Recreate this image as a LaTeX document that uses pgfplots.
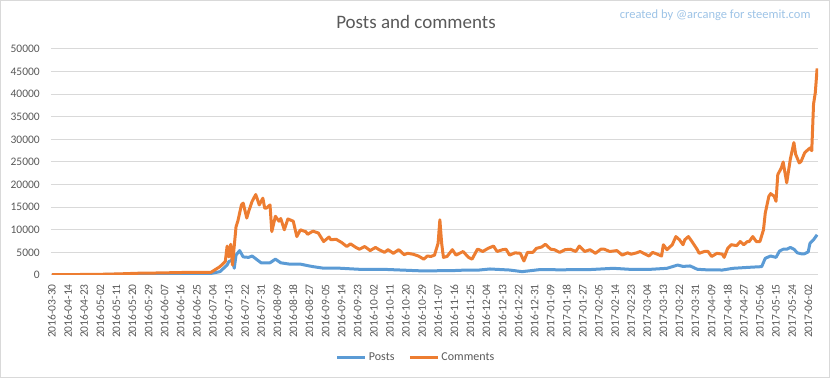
\documentclass[border=0pt]{standalone}
\usepackage{pgfplots}
\pgfplotsset{compat=1.18}
\usepackage{fontspec}
\setmainfont{Carlito}
\definecolor{postc}{HTML}{5B9BD5}
\definecolor{comc}{HTML}{ED7D31}
\definecolor{gridc}{HTML}{D9D9D9}
\definecolor{txtc}{HTML}{595959}
\definecolor{credc}{HTML}{9DC3E6}
\begin{document}
\begin{tikzpicture}[x=1pt,y=1pt]
\useasboundingbox (0,0) rectangle (832,379);
\draw[gridc, line width=1pt] (0.5,1.5) rectangle (829.5,378.5);
\node[font=\fontsize{19}{19}\selectfont, text=txtc] at (416,357) {Posts and comments};
\node[font=\fontsize{12.5}{12.5}\selectfont, text=credc, anchor=east] at (814,364) {created by @arcange for steemit.com};
\begin{axis}[
  at={(51pt,104pt)}, anchor=south west,
  scale only axis, width=767pt, height=226pt,
  xmin=-0.5, xmax=428.5, ymin=0, ymax=50000,
  axis line style={draw=none},
  tick style={draw=none},
  major tick length=0pt,
  ymajorgrids, grid style={gridc, line width=1pt},
  ytick={0,5000,...,50000},
  scaled y ticks=false,
  /pgf/number format/1000 sep={},
  /pgf/number format/assume math mode=true,
  yticklabel style={anchor=east, inner sep=0pt, xshift=-11pt, font=\fontsize{11.5}{11.5}\selectfont, text=txtc},
  xtick={0,9,...,423},
  xticklabels={2016-03-30,2016-04-14,2016-04-23,2016-05-02,2016-05-11,2016-05-20,2016-05-29,2016-06-07,2016-06-16,2016-06-25,2016-07-04,2016-07-13,2016-07-22,2016-07-31,2016-08-09,2016-08-18,2016-08-27,2016-09-05,2016-09-14,2016-09-23,2016-10-02,2016-10-11,2016-10-20,2016-10-29,2016-11-07,2016-11-16,2016-11-25,2016-12-04,2016-12-13,2016-12-22,2016-12-31,2017-01-09,2017-01-18,2017-01-27,2017-02-05,2017-02-14,2017-02-23,2017-03-04,2017-03-13,2017-03-22,2017-03-31,2017-04-09,2017-04-18,2017-04-27,2017-05-06,2017-05-15,2017-05-24,2017-06-02},
  xticklabel style={yshift=-9pt, rotate=90, anchor=east, inner sep=0pt, font=\fontsize{11.5}{11.5}\selectfont, text=txtc},
  legend columns=2,
  legend style={at={(0.476,-0.363)}, anchor=center, draw=none, fill=none, font=\fontsize{12}{12}\selectfont, text=txtc, /tikz/every even column/.append style={column sep=12pt}},
  legend image code/.code={\draw[#1, line width=3pt] (0pt,0pt) -- (28pt,0pt);},
  no markers,
]
\addplot[postc, line width=3pt, line join=round] coordinates {
(0,50)(27,100)(55,200)(83,300)(89,350)(94,740)(98,2200)(99,3000)(101,3300)(102,1500)(103,4400)(105,5400)(107,4000)(110,3900)(112,4200)(115,3300)(117,2700)(122,2700)(125,3500)(128,2700)(133,2400)(139,2400)(144,2000)(146,1850)(152,1500)(161,1500)(172,1260)(185,1260)(195,1100)(208,890)(217,950)(223,950)(232,1100)(239,1100)(245,1330)(256,1100)(263,740)(273,1200)(284,1150)(301,1200)(314,1480)(323,1260)(335,1260)(344,1480)(350,2200)(353,1900)(357,2000)(361,1260)(366,1150)(375,1100)(381,1480)(390,1700)(397,1850)(399,3700)(402,4200)(405,3900)(407,5300)(409,5700)(411,5700)(413,6100)(415,5700)(417,4900)(419,4700)(421,4700)(423,5100)(424,7000)(426,7800)(428,8900)
};
\addplot[comc, line width=3pt, line join=round] coordinates {
(0,100)(13,100)(27,150)(38,250)(49,400)(60,450)(72,550)(83,600)(89,600)(94,1850)(97,3000)(98,6400)(99,4000)(100,6800)(101,2200)(103,10700)(104,11900)(106,15500)(107,15900)(109,12600)(110,14000)(112,16300)(114,17800)(115,16700)(116,15500)(118,17000)(119,14800)(120,14800)(122,15500)(123,9600)(125,13000)(127,11900)(128,12500)(130,10000)(132,12400)(135,11900)(137,8500)(139,10000)(141,9700)(142,9600)(143,9000)(146,9700)(149,9300)(152,7400)(155,8400)(156,7800)(159,7900)(162,7200)(165,6300)(167,6900)(170,6100)(172,5700)(175,6300)(178,5400)(181,6100)(183,5600)(186,5000)(188,5600)(191,4800)(194,5600)(197,4500)(199,4800)(202,4600)(205,4200)(208,3500)(210,4200)(212,4100)(214,4400)(216,7000)(217,12200)(218,7000)(219,3900)(221,4100)(224,5600)(226,4400)(230,5200)(233,3900)(235,3500)(238,5700)(239,5600)(241,5200)(244,5900)(247,6400)(249,5200)(252,5600)(254,5700)(256,4400)(259,4900)(262,4800)(264,3100)(266,5000)(269,5000)(271,5900)(274,6200)(276,6800)(279,5700)(281,5600)(284,5000)(287,5600)(290,5700)(293,5200)(295,6400)(298,5200)(301,5600)(304,4800)(307,5700)(309,5700)(312,5200)(316,5400)(319,4400)(322,4900)(324,4600)(327,4900)(329,5200)(331,4800)(334,4200)(336,5000)(338,4700)(341,4200)(342,6700)(344,5600)(347,6700)(349,8500)(351,7800)(353,6700)(354,7800)(356,8500)(358,7400)(361,5600)(362,4800)(365,5200)(367,5200)(369,4100)(372,4800)(375,4600)(376,3900)(378,5900)(380,6700)(383,6500)(385,7400)(387,6700)(389,7400)(390,7400)(392,8500)(394,7400)(396,7400)(398,10000)(399,13700)(401,17400)(402,18000)(404,17400)(405,16300)(406,22200)(408,23700)(409,25000)(411,20400)(413,25600)(415,29300)(416,26700)(418,24800)(419,25100)(421,27000)(422,27400)(424,28100)(425,27500)(426,37800)(427,40400)(428,45700)
};
\legend{Posts,Comments}
\end{axis}
\end{tikzpicture}
\end{document}
